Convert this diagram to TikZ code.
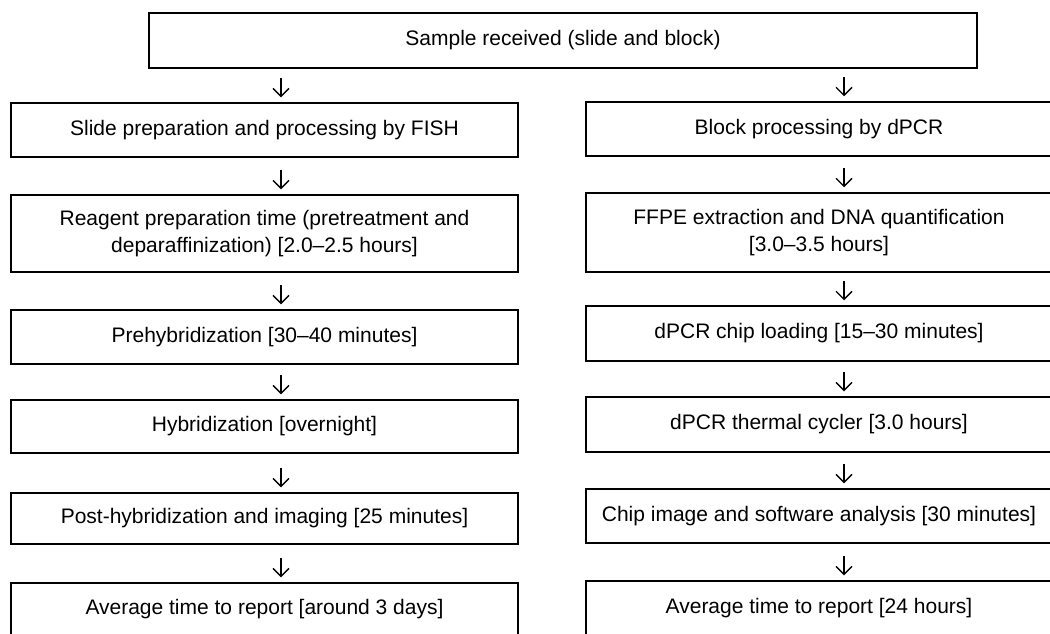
\documentclass[tikz,border=0pt]{standalone}
\usepackage{fontspec}
\setmainfont{Liberation Sans}
\usetikzlibrary{arrows.meta}
\begin{document}
\begin{tikzpicture}[x=1pt,y=-1pt,
  box/.style={draw=black, line width=1.5pt, inner sep=0pt, align=center,
    font=\fontsize{21}{27}\selectfont, text=black},
  lbox/.style={box, minimum width=507pt},
  rbox/.style={box, minimum width=466pt},
  arr/.style={draw=black, line width=1.4pt, shorten >=5pt,
    -{Straight Barb[length=8pt,width=16pt,line width=1.4pt]}}]
\useasboundingbox[fill=white] (0,0) rectangle (1050,633);
\coordinate (xl) at (281,0);
\coordinate (xr) at (844,0);
\node[box, minimum width=828pt, minimum height=55pt] (T) at (563,40.5) {Sample received (slide and block)};
% left column
\node[lbox, minimum height=54pt] (L1) at (264.5,130) {Slide preparation and processing by FISH};
\node[lbox, minimum height=77pt] (L2) at (264.5,233.5) {Reagent preparation time (pretreatment and\\deparaffinization) [2.0--2.5 hours]};
\node[lbox, minimum height=54pt] (L3) at (264.5,337) {Prehybridization [30--40 minutes]};
\node[lbox, minimum height=53pt] (L4) at (264.5,426.5) {Hybridization [overnight]};
\node[lbox, minimum height=51pt] (L5) at (264.5,518.5) {Post-hybridization and imaging [25 minutes]};
\node[lbox, minimum height=53pt] (L6) at (264.5,609.5) {Average time to report [around 3 days]};
% right column
\node[rbox, minimum height=54pt] (R1) at (819,129) {Block processing by dPCR};
\node[rbox, minimum height=79pt] (R2) at (819,232.5) {FFPE extraction and DNA quantification\\{}[3.0--3.5 hours]};
\node[rbox, minimum height=55pt] (R3) at (819,333.5) {dPCR chip loading [15--30 minutes]};
\node[rbox, minimum height=55pt] (R4) at (819,424.5) {dPCR thermal cycler [3.0 hours]};
\node[rbox, minimum height=54pt] (R5) at (819,516) {Chip image and software analysis [30 minutes]};
\node[rbox, minimum height=55pt] (R6) at (819,608.5) {Average time to report [24 hours]};
% connectors
\draw[arr, shorten <=9pt] (T.south -| xl) -- (L1.north -| xl);
\draw[arr, shorten <=12pt] (L1.south -| xl) -- (L2.north -| xl);
\draw[arr, shorten <=12pt] (L2.south -| xl) -- (L3.north -| xl);
\draw[arr, shorten <=10pt] (L3.south -| xl) -- (L4.north -| xl);
\draw[arr, shorten <=14pt] (L4.south -| xl) -- (L5.north -| xl);
\draw[arr, shorten <=13pt] (L5.south -| xl) -- (L6.north -| xl);
\draw[arr, shorten <=8pt] (T.south -| xr) -- (R1.north -| xr);
\draw[arr, shorten <=11pt] (R1.south -| xr) -- (R2.north -| xr);
\draw[arr, shorten <=8pt] (R2.south -| xr) -- (R3.north -| xr);
\draw[arr, shorten <=10pt] (R3.south -| xr) -- (R4.north -| xr);
\draw[arr, shorten <=11pt] (R4.south -| xr) -- (R5.north -| xr);
\draw[arr, shorten <=12pt] (R5.south -| xr) -- (R6.north -| xr);
\end{tikzpicture}
\end{document}
